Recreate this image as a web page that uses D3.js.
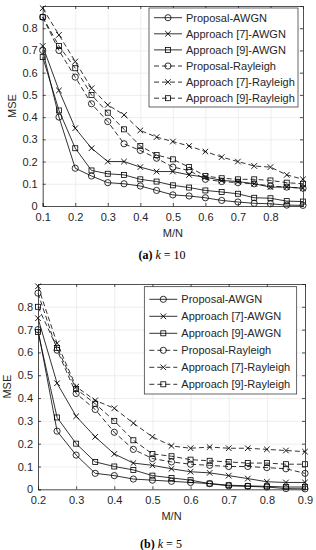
<!DOCTYPE html>
<html>
<head>
<meta charset="utf-8">
<script src="https://cdn.jsdelivr.net/npm/d3@7"></script>
<style>
body { margin: 0; background: #fff; }
svg { display: block; }
text { font-family: "Liberation Sans", Arial, sans-serif; }
text.cap { font-family: "Liberation Serif", "Times New Roman", serif; }
</style>
</head>
<body>
<script>
"use strict";
const seriesNames = ["Proposal-AWGN", "Approach [7]-AWGN", "Approach [9]-AWGN", "Proposal-Rayleigh", "Approach [7]-Rayleigh", "Approach [9]-Rayleigh"];
const seriesMarkers = ["circle", "cross", "square", "circle", "cross", "square"];
const seriesDashed = [false, false, false, true, true, true];

// panel (a), k = 10
const ratioA = [0.1, 0.15, 0.2, 0.25, 0.3, 0.35, 0.4, 0.45, 0.5, 0.55, 0.6, 0.65, 0.7, 0.75, 0.8, 0.85, 0.9];
const propAwgnA = [0.70, 0.40, 0.17, 0.135, 0.105, 0.10, 0.09, 0.07, 0.05, 0.045, 0.037, 0.025, 0.018, 0.012, 0.01, 0.004, 0.003];
const ap7AwgnA = [0.72, 0.52, 0.35, 0.26, 0.20, 0.20, 0.175, 0.155, 0.155, 0.14, 0.13, 0.115, 0.11, 0.10, 0.085, 0.085, 0.08];
const ap9AwgnA = [0.67, 0.43, 0.26, 0.16, 0.145, 0.14, 0.12, 0.11, 0.093, 0.083, 0.07, 0.063, 0.055, 0.037, 0.035, 0.022, 0.02];
const propRayA = [0.85, 0.70, 0.58, 0.46, 0.38, 0.28, 0.25, 0.215, 0.175, 0.16, 0.12, 0.11, 0.105, 0.10, 0.09, 0.085, 0.08];
const ap7RayA = [0.89, 0.77, 0.65, 0.53, 0.455, 0.41, 0.34, 0.31, 0.29, 0.27, 0.245, 0.22, 0.20, 0.18, 0.175, 0.14, 0.12];
const ap9RayA = [0.85, 0.72, 0.62, 0.50, 0.42, 0.345, 0.27, 0.23, 0.21, 0.175, 0.135, 0.125, 0.12, 0.12, 0.115, 0.105, 0.10];
const xTicksA = [0.1, 0.2, 0.3, 0.4, 0.5, 0.6, 0.7, 0.8];

// panel (b), k = 5
const ratioB = [0.2, 0.25, 0.3, 0.35, 0.4, 0.45, 0.5, 0.55, 0.6, 0.65, 0.7, 0.75, 0.8, 0.85, 0.9];
const propAwgnB = [0.70, 0.255, 0.15, 0.07, 0.06, 0.045, 0.04, 0.035, 0.03, 0.025, 0.015, 0.013, 0.01, 0.003, 0.002];
const ap7AwgnB = [0.75, 0.465, 0.32, 0.23, 0.155, 0.115, 0.105, 0.09, 0.077, 0.072, 0.06, 0.047, 0.033, 0.03, 0.03];
const ap9AwgnB = [0.69, 0.315, 0.20, 0.12, 0.10, 0.085, 0.06, 0.05, 0.04, 0.025, 0.018, 0.015, 0.013, 0.01, 0.01];
const propRayB = [0.86, 0.61, 0.42, 0.35, 0.25, 0.175, 0.135, 0.12, 0.11, 0.105, 0.10, 0.10, 0.095, 0.09, 0.07];
const ap7RayB = [0.89, 0.64, 0.45, 0.39, 0.355, 0.29, 0.23, 0.19, 0.18, 0.185, 0.18, 0.18, 0.175, 0.17, 0.165];
const ap9RayB = [0.80, 0.62, 0.44, 0.375, 0.30, 0.215, 0.155, 0.145, 0.13, 0.125, 0.12, 0.115, 0.115, 0.11, 0.11];
const xTicksB = [0.2, 0.3, 0.4, 0.5, 0.6, 0.7, 0.8, 0.9];

const yTicks = [0, 0.1, 0.2, 0.3, 0.4, 0.5, 0.6, 0.7, 0.8];
const ink = "#262626";

const svg = d3.select("body").append("svg").attr("width", 316).attr("height", 550);

function marker(g, type, cx, cy) {
	if (type == "circle") {
		g.append("circle").attr("cx", cx).attr("cy", cy).attr("r", 3.1).attr("fill", "none").attr("stroke", "#000").attr("stroke-width", 0.8);
	} else if (type == "square") {
		g.append("rect").attr("x", cx - 2.5).attr("y", cy - 2.5).attr("width", 5).attr("height", 5).attr("fill", "none").attr("stroke", "#000").attr("stroke-width", 0.8);
	} else {
		g.append("path").attr("d", "M" + (cx - 2.8) + "," + (cy - 2.8) + "L" + (cx + 2.8) + "," + (cy + 2.8) + "M" + (cx - 2.8) + "," + (cy + 2.8) + "L" + (cx + 2.8) + "," + (cy - 2.8)).attr("stroke", "#000").attr("stroke-width", 0.9);
	}
}

function panel(p) {
	const x = d3.scaleLinear().domain(p.xDomain).range([p.left, p.right]);
	const y = d3.scaleLinear().domain([0, 0.9]).range([p.bottom, p.top]);
	const g = svg.append("g");
	// grid
	g.append("g").attr("transform", "translate(0," + p.bottom + ")")
		.call(d3.axisBottom(x).tickValues(p.xTicks).tickSize(-(p.bottom - p.top)).tickFormat(""))
		.call(a => a.select(".domain").remove())
		.selectAll("line").attr("stroke", "#e6e6e6").attr("stroke-width", 0.7);
	g.append("g").attr("transform", "translate(" + p.left + ",0)")
		.call(d3.axisLeft(y).tickValues(yTicks).tickSize(-(p.right - p.left)).tickFormat(""))
		.call(a => a.select(".domain").remove())
		.selectAll("line").attr("stroke", "#e6e6e6").attr("stroke-width", 0.7);
	// series
	p.series.forEach((vals, k) => {
		const pts = vals.map((v, i) => [x(p.xs[i]), y(v)]);
		g.append("path").attr("d", d3.line()(pts)).attr("fill", "none").attr("stroke", "#000").attr("stroke-width", 0.8)
			.attr("stroke-dasharray", seriesDashed[k] ? "5,3" : null);
		pts.forEach(q => marker(g, seriesMarkers[k], q[0], q[1]));
	});
	// axes with inward ticks
	const bx = g.append("g").attr("transform", "translate(0," + p.bottom + ")")
		.call(d3.axisBottom(x).tickValues(p.xTicks).tickSize(-3).tickPadding(7).tickFormat(d3.format(".1f")));
	const tx = g.append("g").attr("transform", "translate(0," + p.top + ")")
		.call(d3.axisTop(x).tickValues(p.xTicks).tickSize(-3).tickFormat(""));
	const ly = g.append("g").attr("transform", "translate(" + p.left + ",0)")
		.call(d3.axisLeft(y).tickValues(yTicks).tickSize(-3).tickPadding(5).tickFormat(d => d == 0 ? "0" : d3.format(".1f")(d)));
	const ry = g.append("g").attr("transform", "translate(" + p.right + ",0)")
		.call(d3.axisRight(y).tickValues(yTicks).tickSize(-3).tickFormat(""));
	[bx, tx, ly, ry].forEach(a => {
		a.select(".domain").attr("stroke", ink).attr("stroke-width", 0.8);
		a.selectAll(".tick line").attr("stroke", ink).attr("stroke-width", 0.8);
		a.selectAll("text").attr("fill", ink).attr("font-size", 11).attr("font-family", "Liberation Sans, Arial, sans-serif");
	});
	g.append("text").attr("x", (p.left + p.right) / 2).attr("y", p.bottom + 31).attr("text-anchor", "middle")
		.attr("font-size", 11).attr("fill", ink).text("M/N");
	g.append("text").attr("transform", "translate(" + p.yLabelX + "," + ((p.top + p.bottom) / 2) + ") rotate(-90)")
		.attr("text-anchor", "middle").attr("font-size", 11).attr("fill", ink).text("MSE");
	// legend
	const L = p.legend;
	const lg = g.append("g");
	lg.append("rect").attr("x", L.x).attr("y", L.y).attr("width", L.w).attr("height", L.h)
		.attr("fill", "#fff").attr("stroke", ink).attr("stroke-width", 0.7);
	seriesNames.forEach((name, k) => {
		const cy = L.y + L.first + k * L.step;
		lg.append("line").attr("x1", L.x + 5).attr("x2", L.x + 33).attr("y1", cy).attr("y2", cy)
			.attr("stroke", "#000").attr("stroke-width", 0.8).attr("stroke-dasharray", seriesDashed[k] ? "5,3" : null);
		marker(lg, seriesMarkers[k], L.x + 19, cy);
		lg.append("text").attr("x", L.x + 37).attr("y", cy + 4).attr("font-size", 11).attr("fill", ink).text(name);
	});
	// caption
	const cap = g.append("text").attr("class", "cap").attr("x", p.capX).attr("y", p.capY).attr("text-anchor", "middle")
		.attr("font-size", 12).attr("fill", "#000");
	cap.append("tspan").attr("font-weight", "bold").text(p.capTag);
	cap.append("tspan").text(" ");
	cap.append("tspan").attr("font-style", "italic").text("k");
	cap.append("tspan").text(" = " + p.capK);
}

panel({
	xDomain: [0.1, 0.9], xs: ratioA, xTicks: xTicksA,
	series: [propAwgnA, ap7AwgnA, ap9AwgnA, propRayA, ap7RayA, ap9RayA],
	left: 42.7, right: 303, top: 6, bottom: 206, yLabelX: 16,
	legend: {x: 149, y: 8, w: 149, h: 99, first: 9.7, step: 16.1},
	capX: 162, capY: 259, capTag: "(a)", capK: "10"
});
panel({
	xDomain: [0.2, 0.9], xs: ratioB, xTicks: xTicksB,
	series: [propAwgnB, ap7AwgnB, ap9AwgnB, propRayB, ap7RayB, ap9RayB],
	left: 38, right: 305, top: 284, bottom: 489.3, yLabelX: 11,
	legend: {x: 144.3, y: 286.7, w: 152.4, h: 107.3, first: 12.6, step: 17},
	capX: 161, capY: 548, capTag: "(b)", capK: "5"
});
</script>
</body>
</html>
